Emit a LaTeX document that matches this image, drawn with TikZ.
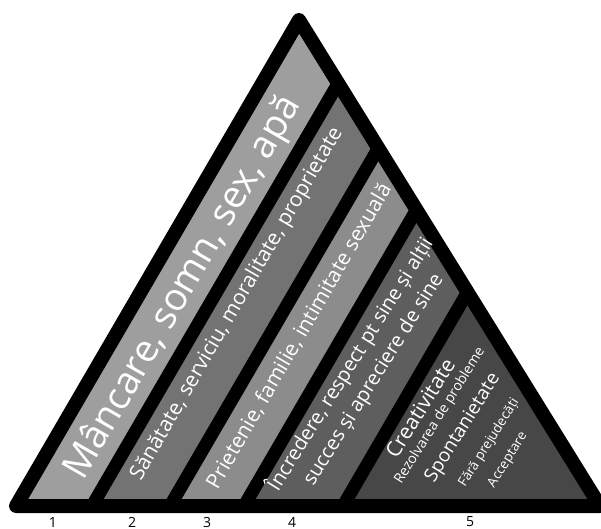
\documentclass[tikz,border=0pt]{standalone}
\usepackage{fontspec}
\setmainfont{Open Sans}
\usetikzlibrary{calc}

\definecolor{bandA}{gray}{0.62}
\definecolor{bandB}{gray}{0.45}
\definecolor{bandC}{gray}{0.55}
\definecolor{bandD}{gray}{0.37}
\definecolor{bandE}{gray}{0.28}

\begin{document}
\begin{tikzpicture}[
  x=1pt, y={(0pt,-1pt)},
  outline/.style={line width=14pt, line join=round},
  divider/.style={line width=13pt},
  level/.style 2 args={text=white, rotate=#2, anchor=center, inner sep=0pt,
    font=\fontsize{#1}{#1}\selectfont},
  number/.style={font=\fontsize{14}{14}\selectfont, inner sep=0pt}
]
\useasboundingbox (0,0) rectangle (601,528);
\clip (0,0) rectangle (601,528);

% Pyramid corners and dividers
\coordinate (bl) at (16,506);
\coordinate (br) at (600,506);
\coordinate (top) at (299,20);
\foreach \i/\x in {1/92,2/170,3/244,4/343} {
  \coordinate (d\i) at (\x,506);
  \coordinate (u\i) at ($(d\i)+(283,-486)$);
  \coordinate (j\i) at (intersection cs: first line={(d\i)--(u\i)}, second line={(top)--(br)});
}

% Bands
\fill[bandA] (bl) -- (top) -- (j1) -- (d1) -- cycle;
\fill[bandB] (d1) -- (j1) -- (j2) -- (d2) -- cycle;
\fill[bandC] (d2) -- (j2) -- (j3) -- (d3) -- cycle;
\fill[bandD] (d3) -- (j3) -- (j4) -- (d4) -- cycle;
\fill[bandE] (d4) -- (j4) -- (br) -- cycle;

\foreach \i in {1,...,4}
  \draw[divider] (d\i) -- (j\i);
\draw[outline] (bl) -- (top) -- (br) -- cycle;

% Texts
\node[level={38}{60}] (needs) at (184,288) {Mâncare, somn, sex, apă};
\node[level={21}{60}] (safety) at (237,304) {Sănătate, serviciu, moralitate, proprietate};
\node[level={21}{60}] (love) at (299,336) {Prietenie, familie, intimitate sexuală};
\node[level={20}{58}] (esteemA) at (350,364) {Încredere, respect pt sine și alții};
\node[level={20}{58}] (esteemB) at (374,380) {succes și apreciere de sine};
\node[level={21}{58}] (selfA) at (420,408) {Creativitate};
\node[level={14}{58}] (selfB) at (440,416) {Rezolvarea de probleme};
\node[level={19}{58}] (selfC) at (463,428) {Spontanietate};
\node[level={13.5}{58}] (selfD) at (489,443) {Fără prejudecăți};
\node[level={13.5}{58}] (selfE) at (508,460) {Acceptare};

% Level numbers
\node[number] (n1) at (53,522) {1};
\node[number] (n2) at (132,522) {2};
\node[number] (n3) at (207,522) {3};
\node[number] (n4) at (292,522) {4};
\node[number] (n5) at (470,522) {5};
\end{tikzpicture}
\end{document}
